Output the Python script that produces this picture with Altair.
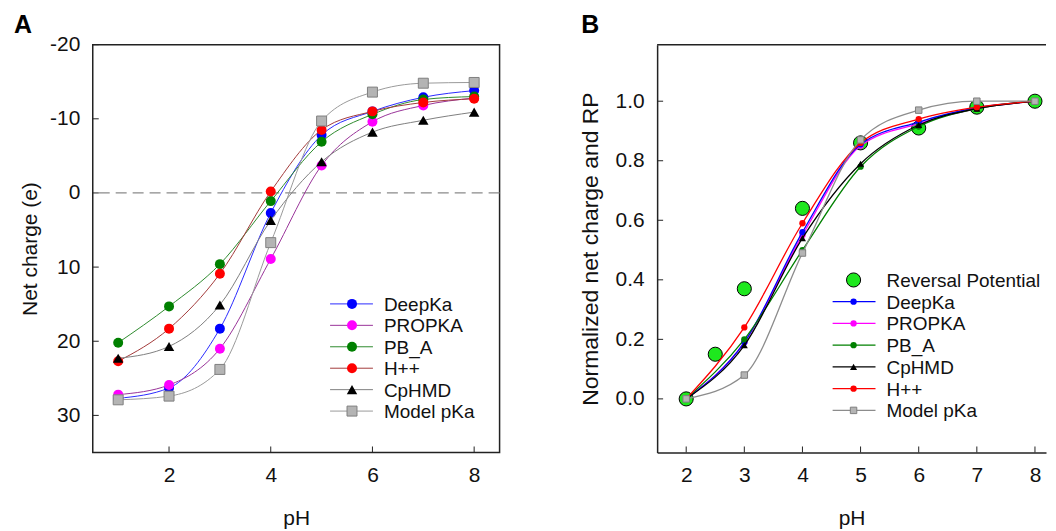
import altair as alt
import pandas as pd

FONT = "Liberation Sans"

# ---------------- Panel A data ----------------
ph_a = [1, 2, 3, 4, 5, 6, 7, 8]
deepka_a = [27.7, 26.3, 18.3, 2.7, -7.8, -11.0, -12.9, -13.8]
propka_a = [27.2, 25.9, 21.0, 8.9, -3.7, -9.6, -11.8, -12.8]
pba_a = [20.2, 15.3, 9.6, 1.1, -6.9, -10.6, -12.6, -13.0]
hpp_a = [22.7, 18.3, 10.9, -0.2, -8.5, -11.0, -12.2, -12.7]
cphmd_a = [22.3, 20.7, 15.1, 3.7, -4.2, -8.2, -9.8, -10.9]
model_a = [27.9, 27.4, 23.8, 6.7, -9.7, -13.6, -14.8, -14.9]

names_a = ["DeepKa", "PROPKA", "PB_A", "H++", "CpHMD", "Model pKa"]
values_a = [deepka_a, propka_a, pba_a, hpp_a, cphmd_a, model_a]
yticks_a = [-20, -10, 0, 10, 20, 30]
xticks_a = [2, 4, 6, 8]

# ---------------- Panel B data ----------------
ph_b = [2, 3, 4, 5, 6, 7, 8]
rp_ph = [2, 2.5, 3, 4, 5, 6, 7, 8]
rp_val = [0.0, 0.15, 0.37, 0.64, 0.86, 0.91, 0.98, 1.0]
deepka_b = [0.0, 0.19, 0.56, 0.855, 0.93, 0.978, 1.0]
propka_b = [0.0, 0.19, 0.55, 0.85, 0.925, 0.975, 1.0]
pba_b = [0.0, 0.20, 0.50, 0.78, 0.915, 0.975, 1.0]
cphmd_b = [0.0, 0.18, 0.54, 0.79, 0.92, 0.975, 1.0]
hpp_b = [0.0, 0.24, 0.59, 0.86, 0.94, 0.98, 1.0]
model_b = [0.0, 0.08, 0.49, 0.87, 0.97, 1.0, 1.0]

names_b = ["DeepKa", "PROPKA", "PB_A", "CpHMD", "H++", "Model pKa"]
values_b = [deepka_b, propka_b, pba_b, cphmd_b, hpp_b, model_b]
yticks_b = [0.0, 0.2, 0.4, 0.6, 0.8, 1.0]
xticks_b = [2, 3, 4, 5, 6, 7, 8]

# ---------------- styles ----------------
style = {
    "DeepKa":    dict(fill="#0000ff", line_a="#2a2aff", line_b="#0000ff", shape="circle", stroke=None),
    "PROPKA":    dict(fill="#ff00ff", line_a="#993399", line_b="#ff00ff", shape="circle", stroke=None),
    "PB_A":      dict(fill="#008000", line_a="#2e8b2e", line_b="#008000", shape="circle", stroke=None),
    "H++":       dict(fill="#ff0000", line_a="#a33a3a", line_b="#ff0000", shape="circle", stroke=None),
    "CpHMD":     dict(fill="#000000", line_a="#808080", line_b="#000000", shape="triangle-up", stroke=None),
    "Model pKa": dict(fill="#b4b4b4", line_a="#9a9a9a", line_b="#8c8c8c", shape="square", stroke="#808080"),
}

W_A, H = 408, 409
W_B = 390

xa = alt.Scale(domain=[0.5, 8.5], nice=False)
ya = alt.Scale(domain=[-20, 35], reverse=True, nice=False)
xb = alt.Scale(domain=[1.5, 8.19], nice=False)
yb = alt.Scale(domain=[-0.18, 1.19], nice=False)

TICK_FS = 21


def point_props(name, big):
    s = style[name]
    if s["shape"] == "circle":
        size = 100 if big else 40
    elif s["shape"] == "triangle-up":
        size = 110 if big else 50
    else:
        size = 100 if big else 42
    kw = dict(shape=s["shape"], filled=True, fill=s["fill"], size=size, opacity=1)
    if s["stroke"]:
        kw.update(stroke=s["stroke"], strokeWidth=1)
    else:
        kw.update(strokeWidth=0)
    return kw


# ---------------- Panel A ----------------
layers_a = []
first = True
for name, vals in zip(names_a, values_a):
    df = pd.DataFrame({"pH": ph_a, "charge": vals})
    if first:
        xenc = alt.X("pH:Q", scale=xa, title="pH",
                     axis=alt.Axis(values=xticks_a, format="d", ticks=False, tickSize=0, labelPadding=12,
                                   titlePadding=22, domain=False, grid=False))
        yenc = alt.Y("charge:Q", scale=ya, title="Net charge (e)",
                     axis=alt.Axis(values=yticks_a, ticks=False, tickSize=0, labelPadding=13,
                                   titlePadding=9, domain=False, grid=False,
                                   labelExpr="datum.value + ''"))
        first = False
    else:
        xenc = alt.X("pH:Q", scale=xa)
        yenc = alt.Y("charge:Q", scale=ya)
    base = alt.Chart(df)
    layers_a.append(base.mark_line(interpolate="monotone", color=style[name]["line_a"], strokeWidth=1)
                    .encode(x=xenc, y=yenc))
    layers_a.append(base.mark_point(**point_props(name, True)).encode(x=xenc, y=yenc))
    if name == "DeepKa":
        # dashed zero line drawn beneath the series
        layers_a.insert(0, alt.Chart(pd.DataFrame({"t": [0]}))
                        .mark_rule(color="#8a8a8a", strokeDash=[11, 6], strokeWidth=1.3)
                        .encode(y=alt.datum(0)))

# inside ticks
layers_a.append(alt.Chart(pd.DataFrame({"v": yticks_a})).mark_rule(color="#222", strokeWidth=1)
                .encode(y=alt.Y("v:Q", scale=ya), x=alt.value(0), x2=alt.value(6)))
layers_a.append(alt.Chart(pd.DataFrame({"v": xticks_a})).mark_rule(color="#222", strokeWidth=1)
                .encode(x=alt.X("v:Q", scale=xa), y=alt.value(H), y2=alt.value(H - 6)))

# legend A
leg_y0, leg_dy = 260, 21.5
for i, name in enumerate(names_a):
    yy = leg_y0 + i * leg_dy
    one = alt.Chart(pd.DataFrame({"t": [name]}))
    layers_a.append(one.mark_rule(color=style[name]["line_a"], strokeWidth=1)
                    .encode(x=alt.value(238), x2=alt.value(281), y=alt.value(yy)))
    layers_a.append(one.mark_point(**point_props(name, True))
                    .encode(x=alt.value(260), y=alt.value(yy)))
    layers_a.append(one.mark_text(align="left", baseline="middle", font=FONT, fontSize=19, color="#111")
                    .encode(x=alt.value(292), y=alt.value(yy + 1), text="t:N"))

layers_a.append(alt.Chart(pd.DataFrame({"t": ["A"]}))
                .mark_text(align="left", baseline="alphabetic", font=FONT, fontSize=25,
                           fontWeight="bold", color="#000")
                .encode(x=alt.value(-79), y=alt.value(-12), text="t:N"))

panel_a = alt.layer(*layers_a).properties(width=W_A, height=H)

# ---------------- Panel B ----------------
layers_b = []
df_rp = pd.DataFrame({"pH": rp_ph, "v": rp_val})
layers_b.append(
    alt.Chart(df_rp).mark_point(shape="circle", filled=True, fill="#1ee81e", stroke="#000",
                                strokeWidth=1, size=200, opacity=1)
    .encode(x=alt.X("pH:Q", scale=xb, title="pH",
                    axis=alt.Axis(values=xticks_b, format="d", ticks=False, tickSize=0, labelPadding=12,
                                  titlePadding=22, domain=True, domainColor="#222",
                                  domainWidth=1.5, grid=False)),
            y=alt.Y("v:Q", scale=yb, title="Normalized net charge and RP",
                    axis=alt.Axis(values=yticks_b, format=".1f", ticks=False, tickSize=0,
                                  labelPadding=13, titlePadding=13, titleFontSize=23, domain=True,
                                  domainColor="#222", domainWidth=1.5, grid=False)))
)
order_b = ["PROPKA", "DeepKa", "PB_A", "CpHMD", "H++", "Model pKa"]
for name in order_b:
    vals = values_b[names_b.index(name)]
    df = pd.DataFrame({"pH": ph_b, "v": vals})
    base = alt.Chart(df)
    enc = dict(x=alt.X("pH:Q", scale=xb), y=alt.Y("v:Q", scale=yb))
    layers_b.append(base.mark_line(interpolate="monotone", color=style[name]["line_b"], strokeWidth=1.3)
                    .encode(**enc))
    layers_b.append(base.mark_point(**point_props(name, False)).encode(**enc))

layers_b.append(alt.Chart(pd.DataFrame({"t": yticks_b})).mark_rule(color="#222", strokeWidth=1)
                .encode(y=alt.Y("t:Q", scale=yb), x=alt.value(0), x2=alt.value(6)))
layers_b.append(alt.Chart(pd.DataFrame({"t": xticks_b})).mark_rule(color="#222", strokeWidth=1)
                .encode(x=alt.X("t:Q", scale=xb), y=alt.value(H), y2=alt.value(H - 6)))
layers_b.append(alt.Chart(pd.DataFrame({"t": [0]})).mark_rule(color="#222", strokeWidth=1.5)
                .encode(y=alt.datum(1.19)))

# legend B
legb_y0, legb_dy = 236, 21.8
one = alt.Chart(pd.DataFrame({"t": ["Reversal Potential"]}))
layers_b.append(one.mark_point(shape="circle", filled=True, fill="#1ee81e", stroke="#000",
                               strokeWidth=1, size=200, opacity=1)
                .encode(x=alt.value(197), y=alt.value(legb_y0)))
layers_b.append(one.mark_text(align="left", baseline="middle", font=FONT, fontSize=19, color="#111")
                .encode(x=alt.value(230), y=alt.value(legb_y0 + 1), text="t:N"))
for i, name in enumerate(names_b):
    yy = legb_y0 + (i + 1) * legb_dy
    one = alt.Chart(pd.DataFrame({"t": [name]}))
    layers_b.append(one.mark_rule(color=style[name]["line_b"], strokeWidth=1.3)
                    .encode(x=alt.value(176), x2=alt.value(219), y=alt.value(yy)))
    layers_b.append(one.mark_point(**point_props(name, False))
                    .encode(x=alt.value(197), y=alt.value(yy)))
    layers_b.append(one.mark_text(align="left", baseline="middle", font=FONT, fontSize=19, color="#111")
                    .encode(x=alt.value(230), y=alt.value(yy + 1), text="t:N"))

layers_b.append(alt.Chart(pd.DataFrame({"t": ["B"]}))
                .mark_text(align="left", baseline="alphabetic", font=FONT, fontSize=25,
                           fontWeight="bold", color="#000")
                .encode(x=alt.value(-76), y=alt.value(-12), text="t:N"))

panel_b = alt.layer(*layers_b).properties(width=W_B, height=H,
                                          view=alt.ViewBackground(stroke="transparent"))

chart = (
    alt.hconcat(panel_a, panel_b, spacing=77)
    .properties(padding={"left": 5, "top": 3, "right": 0, "bottom": 0})
    .configure_view(stroke="#222", strokeWidth=1.5)
    .configure_axis(labelFont=FONT, labelFontSize=TICK_FS, labelColor="#111",
                    titleFont=FONT, titleFontSize=21, titleFontWeight="normal", titleColor="#111")
)

chart.save("out.html", embed_options={"renderer": "svg", "actions": False})
